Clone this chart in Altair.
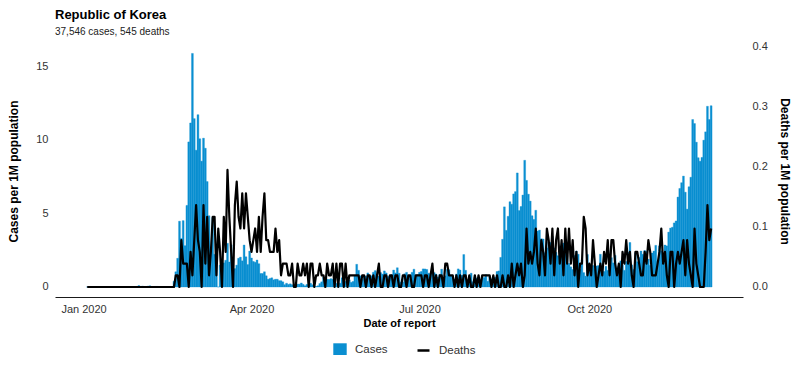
import altair as alt
import pandas as pd

# ---------------- data (daily counts, Republic of Korea, 2020) ----------------
POPULATION_M = 51.27          # population in millions
START_DATE = "2020-01-03"     # first reported date

cases_jan = [0, 0, 0, 0, 0, 0, 0, 0, 0, 0, 0, 0, 0, 0, 0, 0, 0,
             1, 0, 0, 0, 1, 0, 1, 1, 0, 0, 2, 5]
cases_feb = [1, 3, 0, 1, 3, 4, 0, 0, 2, 2, 1, 0, 0, 0, 0, 1, 1, 1,
             20, 53, 100, 229, 169, 231, 144, 284, 505, 571, 813]
cases_mar = [586, 476, 600, 516, 438, 518, 483, 367, 248, 131,
             242, 114, 110, 0, 76, 74, 84, 93, 152, 87,
             147, 0, 64, 76, 100, 104, 91, 146, 105, 78, 125]
cases_apr = [101, 89, 86, 94, 81, 47, 47, 53, 39, 27,
             30, 32, 25, 27, 27, 22, 22, 18, 8, 13,
             9, 11, 8, 6, 10, 10, 10, 14, 9, 4]
cases_may = [9, 6, 13, 8, 3, 2, 4, 12, 18, 34,
             35, 27, 26, 29, 27, 19, 13, 15, 13, 32,
             12, 20, 23, 25, 16, 19, 40, 79, 58, 39, 27]
cases_jun = [35, 38, 49, 39, 39, 51, 57, 38, 38, 50,
             45, 56, 49, 37, 34, 43, 59, 49, 67, 48,
             17, 17, 46, 51, 28, 39, 51, 62, 42, 43]
cases_jul = [51, 54, 63, 63, 61, 48, 44, 62, 50, 45,
             35, 44, 62, 33, 39, 61, 60, 39, 34, 26,
             45, 63, 59, 41, 113, 58, 25, 28, 48, 18, 36]
cases_aug = [31, 30, 23, 34, 33, 43, 20, 36, 28, 34,
             34, 54, 56, 103, 166, 279, 197, 246, 297, 288,
             324, 332, 397, 266, 280, 320, 441, 371, 323, 299, 248]
cases_sep = [235, 267, 195, 198, 168, 167, 119, 136, 156, 155,
             176, 136, 121, 109, 106, 113, 153, 126, 110, 82,
             70, 61, 110, 125, 114, 61, 95, 50, 38, 113]
cases_oct = [77, 63, 75, 64, 73, 75, 114, 69, 54, 72,
             58, 97, 102, 84, 110, 47, 73, 91, 76, 58,
             89, 121, 155, 77, 61, 119, 88, 103, 125, 114, 127]
cases_nov = [124, 97, 75, 118, 125, 145, 89, 143, 126, 100,
             146, 143, 191, 205, 208, 223, 230, 313, 343, 363,
             386, 330, 271, 349, 382, 583, 569, 504, 450, 438]
cases_dec = [451, 511, 540, 629, 583, 631]

deaths_jan = [0, 0, 0, 0, 0, 0, 0, 0, 0, 0, 0, 0, 0, 0, 0, 0, 0,
              0, 0, 0, 0, 0, 0, 0, 0, 0, 0, 0, 0]
deaths_feb = [0, 0, 0, 0, 0, 0, 0, 0, 0, 0, 0, 0, 0, 0, 0, 0, 0, 0, 0,
              1, 1, 0, 4, 2, 2, 2, 0, 3, 1]
deaths_mar = [4, 7, 4, 3, 0, 7, 2, 6, 1, 3,
              6, 6, 1, 5, 3, 0, 6, 3, 10, 6,
              3, 0, 7, 9, 6, 5, 8, 5, 8, 6, 4]
deaths_apr = [3, 4, 5, 3, 6, 3, 6, 8, 4, 4,
              3, 3, 3, 5, 3, 4, 1, 2, 2, 2,
              1, 1, 2, 0, 0, 2, 1, 1, 2, 1]
deaths_may = [2, 0, 2, 2, 0, 1, 1, 2, 1, 1,
              0, 2, 1, 1, 2, 0, 2, 0, 2, 2,
              0, 2, 0, 1, 1, 1, 1, 1, 1, 0, 1]
deaths_jun = [1, 0, 1, 1, 0, 1, 0, 1, 2, 0,
              0, 1, 1, 0, 1, 1, 0, 1, 1, 0,
              0, 1, 1, 0, 1, 1, 0, 0, 1, 1]
deaths_jul = [1, 1, 0, 1, 1, 0, 1, 2, 0, 1,
              0, 1, 1, 0, 2, 2, 1, 1, 1, 0,
              1, 0, 1, 0, 1, 1, 0, 1, 0, 0, 1]
deaths_aug = [0, 1, 0, 1, 1, 1, 1, 1, 0, 1,
              0, 1, 0, 0, 1, 0, 0, 1, 0, 2,
              0, 1, 2, 1, 2, 0, 1, 5, 2, 3, 2]
deaths_sep = [3, 5, 2, 1, 4, 3, 1, 5, 4, 2,
              5, 1, 4, 5, 2, 4, 1, 5, 2, 5,
              2, 4, 1, 3, 0, 2, 2, 6, 5, 1]
deaths_oct = [2, 1, 4, 2, 0, 1, 2, 1, 3, 2,
              4, 1, 4, 4, 2, 1, 2, 0, 3, 2,
              4, 2, 3, 1, 0, 3, 3, 2, 1, 1, 3]
deaths_nov = [2, 4, 3, 1, 1, 1, 2, 3, 5, 2,
              3, 1, 0, 3, 3, 0, 2, 3, 2, 3,
              4, 1, 4, 2, 1, 0, 5, 2, 1, 0]
deaths_dec = [0, 0, 3, 7, 4, 5]

TITLE = "Republic of Korea"
SUBTITLE = "37,546 cases, 545 deaths"
TICK_MONTHS = [1, 4, 7, 10]

# ---------------- build table ----------------
cases = (cases_jan + cases_feb + cases_mar + cases_apr + cases_may + cases_jun +
         cases_jul + cases_aug + cases_sep + cases_oct + cases_nov + cases_dec)
deaths = (deaths_jan + deaths_feb + deaths_mar + deaths_apr + deaths_may + deaths_jun +
          deaths_jul + deaths_aug + deaths_sep + deaths_oct + deaths_nov + deaths_dec)
dates = pd.date_range(START_DATE, periods=len(cases), freq="D")
half = pd.Timedelta(hours=12)
df = pd.DataFrame({
    "date": dates.strftime("%Y-%m-%dT%H:%M:%SZ"),
    "x0": (dates - half).strftime("%Y-%m-%dT%H:%M:%SZ"),
    "x1": (dates + half).strftime("%Y-%m-%dT%H:%M:%SZ"),
    "cases_pm": [c / POPULATION_M for c in cases],
    "deaths_pm": [d / POPULATION_M for d in deaths],
    "s_cases": "Cases",
    "s_deaths": "Deaths",
})

# ---------------- styling ----------------
FONT = "Liberation Sans"
BLUE = "#0a8fd1"
TXT = "#333333"

x_scale = alt.Scale(
    type="utc",
    domain=[alt.DateTime(year=2019, month=12, date=16, hours=13, minutes=26, utc=True),
            alt.DateTime(year=2020, month=12, date=23, hours=6, minutes=14, utc=True)],
)


def x_axis():
    return alt.Axis(
        values=[alt.DateTime(year=2020, month=m, date=1, utc=True) for m in TICK_MONTHS],
        format="%b %Y", title="Date of report", grid=False, ticks=False,
        domain=True, domainColor="#1a1a1a", domainWidth=1,
        labelFont=FONT, labelFontSize=11, labelColor=TXT, labelPadding=6,
        titleFont=FONT, titleFontSize=11, titleFontWeight="bold", titleColor="#000000",
        titlePadding=3,
    )


bars = alt.Chart(df).mark_bar(stroke=BLUE, strokeWidth=0.35).encode(
    x=alt.X("x0:T", scale=x_scale, axis=x_axis()),
    x2="x1:T",
    y=alt.Y("cases_pm:Q",
            scale=alt.Scale(domain=[-0.679, 16.43], nice=False, zero=False),
            axis=alt.Axis(values=[0, 5, 10, 15], title="Cases per 1M population",
                          orient="left", grid=False, ticks=False, domain=False,
                          labelFont=FONT, labelFontSize=11, labelColor=TXT, labelPadding=7,
                          titleFont=FONT, titleFontSize=12, titleFontWeight="bold",
                          titleColor="#000000", titlePadding=15)),
    y2=alt.datum(0),
    color=alt.Color("s_cases:N",
                    scale=alt.Scale(domain=["Cases"], range=[BLUE]),
                    legend=alt.Legend(orient="none", legendX=278, legendY=298, title=None,
                                      symbolType="square", symbolSize=180,
                                      symbolStrokeWidth=0, labelOffset=8, padding=0,
                                      labelFont=FONT, labelFontSize=11.5, labelColor=TXT)),
)

line = alt.Chart(df).mark_line(strokeWidth=2.2, strokeJoin="round").encode(
    x=alt.X("date:T", scale=x_scale, axis=x_axis()),
    y=alt.Y("deaths_pm:Q",
            scale=alt.Scale(domain=[-0.01667, 0.4033], nice=False, zero=False),
            axis=alt.Axis(values=[0, 0.1, 0.2, 0.3, 0.4], format=".1f",
                          title="Deaths per 1M population",
                          orient="right", grid=False, ticks=False, domain=False,
                          labelFont=FONT, labelFontSize=11, labelColor=TXT, labelPadding=9,
                          titleFont=FONT, titleFontSize=12, titleFontWeight="bold",
                          titleColor="#000000", titlePadding=10)),
    color=alt.Color("s_deaths:N",
                    scale=alt.Scale(domain=["Deaths"], range=["#000000"]),
                    legend=alt.Legend(orient="none", legendX=361, legendY=298, title=None,
                                      symbolType="stroke", symbolSize=144,
                                      symbolStrokeWidth=2.5, labelOffset=8, padding=0,
                                      labelFont=FONT, labelFontSize=11.5, labelColor=TXT)),
)

chart = alt.layer(bars, line).resolve_scale(
    y="independent", color="independent"
).resolve_legend(color="independent").properties(
    width=688, height=252,
    title=alt.TitleParams(TITLE, subtitle=SUBTITLE, anchor="start", frame="group",
                          font=FONT, fontSize=13, fontWeight="bold", color="#000000",
                          subtitleFont=FONT, subtitleFontSize=10, subtitleColor="#222222",
                          subtitlePadding=5, offset=4),
    autosize=alt.AutoSizeParams(type="none"),
    padding={"left": 47, "top": 37, "right": 50, "bottom": 58},
).configure_view(stroke=None)

chart.save("out.html", embed_options={"renderer": "svg", "actions": False})
